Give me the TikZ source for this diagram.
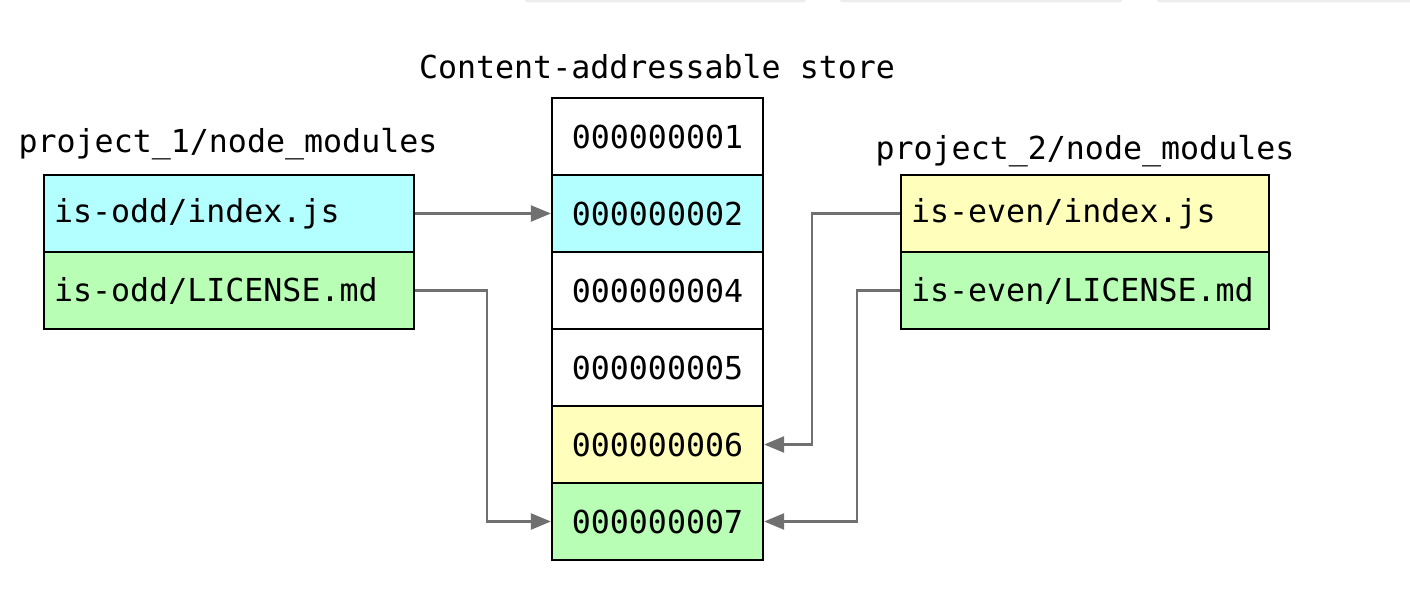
\documentclass[tikz,border=0pt]{standalone}
\usepackage{fontspec}
\setmonofont{DejaVu Sans Mono}
\usepackage{tikz}
\usetikzlibrary{arrows.meta}
\definecolor{oddcyan}{HTML}{B3FFFF}
\definecolor{mdgreen}{HTML}{B8FFB5}
\definecolor{evenyellow}{HTML}{FFFFBB}
\definecolor{linkgray}{HTML}{707070}
\tikzset{
  mono/.style={font=\ttfamily\fontsize{18}{22}\selectfont},
  storecell/.style={mono, draw=black, line width=1.3pt, minimum width=4.22cm,
    minimum height=1.54cm, inner sep=0pt},
  filecell/.style={mono, draw=black, line width=1.3pt, text width=#1,
    align=left, inner xsep=0.2cm, inner ysep=0pt, minimum height=1.54cm},
  link/.style={draw=linkgray, line width=1.4pt,
    -{Triangle[length=0.4cm, width=0.32cm]}},
}
\newcommand*{\StoreCells}[1]{% #1 = list of row/last digit/colour
\foreach \row/\last/\col in {#1} {
\node [storecell, fill=\col]
(h\last) at (657.5, 59.5+77*\row) {00000000\last};
}%
}

\begin{document}
\begin{tikzpicture}[x=0.02cm, y=-0.02cm]
\useasboundingbox (0,0) rectangle (1410,608);

% faint bars along the top edge
\fill[black!7, rounded corners=1pt] (525,-2) rectangle (806,2.5);
\fill[black!7, rounded corners=1pt] (840,-2) rectangle (1122,2.5);
\fill[black!7, rounded corners=1pt] (1157,-2) rectangle (1412,2.5);

% store
\node [mono] (storetitle) at (657,67) {Content-addressable store};
\StoreCells{1/1/white, 2/2/oddcyan, 3/4/white, 4/5/white, 5/6/evenyellow, 6/7/mdgreen}

% project 1
\node [mono] (proj1) at (228,144) {project\_1/node\_modules};
\node [filecell=7.0cm, fill=oddcyan] (odd1) at (229,213.5) {is-odd/index.js};
\node [filecell=7.0cm, fill=mdgreen] (odd2) at (229,290.5) {is-odd/LICENSE.md};

% project 2
\node [mono] (proj2) at (1085,151) {project\_2/node\_modules};
\node [filecell=6.96cm, fill=evenyellow] (even1) at (1085,213.5) {is-even/index.js};
\node [filecell=6.96cm, fill=mdgreen] (even2) at (1085,290.5) {is-even/LICENSE.md};

% links
\draw [link] (odd1.east) -- (h2.west);
\draw [link] (odd2.east) -- ++(72,0) |- (h7.west);
\draw [link] (even1.west) -- ++(-88,0) |- (h6.east);
\draw [link] (even2.west) -- ++(-43,0) |- (h7.east);
\end{tikzpicture}
\end{document}
